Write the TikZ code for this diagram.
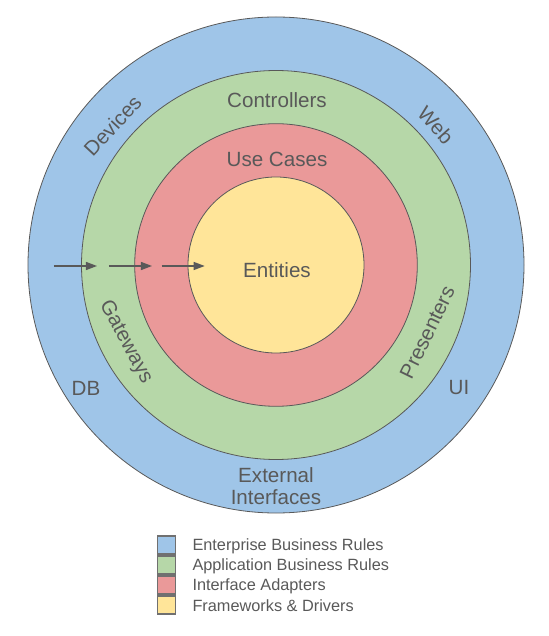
\documentclass[tikz,border=0pt]{standalone}
\usepackage{fontspec}
\setmainfont{Liberation Sans}
\usepackage{tikz}
\usetikzlibrary{arrows.meta,positioning}
\definecolor{ringblue}{HTML}{9FC5E8}
\definecolor{ringgreen}{HTML}{B6D7A8}
\definecolor{ringred}{HTML}{EA9999}
\definecolor{ringyellow}{HTML}{FFE599}
\definecolor{inkgray}{HTML}{595959}
\definecolor{boxgray}{HTML}{707070}

\begin{document}
\begin{tikzpicture}[x=1pt, y=1pt,
  ring/.style={draw=inkgray, line width=0.8pt},
  ringlabel/.style={text=inkgray, inner sep=0pt, font=\fontsize{20.6}{22}\selectfont},
  legendtext/.style={text=inkgray, inner sep=0pt, anchor=west, font=\fontsize{16.3}{18}\selectfont},
  flow/.style={draw=inkgray, line width=1.3pt, -{Triangle[length=11pt,width=8pt]}}]

\useasboundingbox (-276,-371) rectangle (272,265);

% Rings, drawn from the outside in
\foreach \r/\col in {248/ringblue, 194.5/ringgreen, 141.3/ringred, 88/ringyellow} {
    \filldraw[ring, fill=\col] (0,0) circle (\r);
}

% Layer names
\node[ringlabel] (entities) at (1,-5) {Entities};
\node[ringlabel] (usecases) at (1,105.7) {Use Cases};
\node[ringlabel] (controllers) at (1,165) {Controllers};
\node[ringlabel, rotate=64] (presenters) at (-24:165.6) {Presenters};
\node[ringlabel, rotate=-62] (gateways) at (207.2:169) {Gateways};

% Outer ring
\node[ringlabel, rotate=47] (devices) at (139.6:214.7) {Devices};
\node[ringlabel, rotate=-48] (web) at (41.2:212.4) {Web};
\node[ringlabel] (db) at (-190,-123) {DB};
\node[ringlabel] (ui) at (183,-123) {UI};
\node[ringlabel, align=center] (external) at (0,-221) {External\\Interfaces};

% Dependency arrows (pointing inwards)
\foreach \i/\x in {1/-222, 2/-167, 3/-114.3} {
    \coordinate (from\i) at (\x,-1);
    \coordinate (to\i) at (\x+43,-1);
    \draw[flow] (from\i) -- (to\i);
}

% Legend
\foreach \i/\col/\txt in {0/ringblue/Enterprise Business Rules, 1/ringgreen/Application Business Rules, 2/ringred/Interface Adapters, 3/ringyellow/Frameworks \& Drivers} {
    \filldraw[fill=\col, draw=boxgray, line width=1.2pt] (-118.7, -271-\i*20) rectangle ++(18,-18);
    \node[legendtext] (legend\i) at (-83.7, -281-\i*20) {\txt};
}

\end{tikzpicture}
\end{document}
